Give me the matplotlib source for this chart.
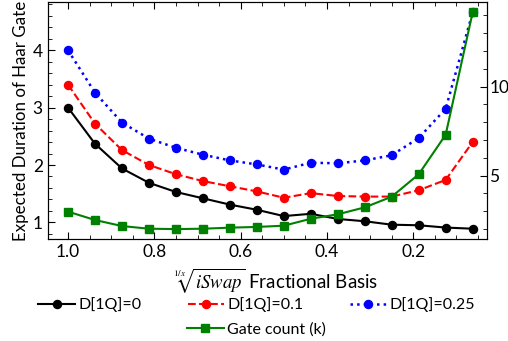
import numpy as np
import matplotlib
matplotlib.use("Agg")
import matplotlib.pyplot as plt
from matplotlib.ticker import MultipleLocator

plt.rcParams["font.family"] = ["Lato", "DejaVu Sans"]
plt.rcParams["mathtext.fontset"] = "stix"

# fractional basis 1/x ... x axis runs 1 -> 1/16 in steps of 1/16
basis = [1 - i / 16 for i in range(16)]

dur_0 = [3.00, 2.37, 1.94, 1.69, 1.53, 1.42, 1.31, 1.22, 1.11, 1.15, 1.06, 1.02, 0.96, 0.95, 0.91, 0.89]
dur_01 = [3.40, 2.72, 2.26, 2.00, 1.84, 1.72, 1.63, 1.54, 1.43, 1.51, 1.46, 1.45, 1.45, 1.56, 1.74, 2.40]
dur_025 = [4.00, 3.26, 2.74, 2.46, 2.30, 2.18, 2.08, 2.01, 1.92, 2.04, 2.03, 2.08, 2.17, 2.47, 2.98, 4.66]
gate_count = [2.97, 2.50, 2.16, 2.01, 1.99, 2.01, 2.07, 2.11, 2.18, 2.57, 2.82, 3.21, 3.81, 5.07, 7.29, 14.17]

TICK_FS = 12.5
LEG_FS = 11.5

fig = plt.figure(figsize=(5.08, 3.41), dpi=100)
ax = fig.add_axes([0.094, 0.299, 0.864, 0.695])
ax2 = ax.twinx()

l0, = ax.plot(basis, dur_0, "-o", color="black", lw=1.5, ms=5.8, label="D[1Q]=0")
l1, = ax.plot(basis, dur_01, "--o", color="red", lw=1.5, ms=5.8, label="D[1Q]=0.1")
l2, = ax.plot(basis, dur_025, ":o", color="blue", lw=1.8, ms=5.8, label="D[1Q]=0.25")
lg, = ax2.plot(basis, gate_count, "-s", color="green", lw=1.5, ms=5.8, label="Gate count (k)")

ax.set_xlim(1.047, 0.03)
ax.set_ylim(0.71, 4.84)
ax2.set_ylim(1.43, 14.75)

ax.xaxis.set_major_locator(MultipleLocator(0.2))
ax.xaxis.set_minor_locator(MultipleLocator(0.05))
ax.yaxis.set_major_locator(MultipleLocator(1))
ax.yaxis.set_minor_locator(MultipleLocator(0.2))
ax2.yaxis.set_major_locator(MultipleLocator(5))
ax2.yaxis.set_minor_locator(MultipleLocator(1))

for a in (ax, ax2):
    a.tick_params(which="both", direction="in", labelsize=TICK_FS)
    a.tick_params(which="major", length=5)
    a.tick_params(which="minor", length=3)
ax.tick_params(which="both", top=True)
ax2.tick_params(which="major", pad=2)

ax.set_ylabel("Expected Duration of Haar Gate", fontsize=12.2, labelpad=3)
ax.set_xlabel(r"$\sqrt[1/x]{iSwap}$ Fractional Basis", fontsize=13.5)
ax.xaxis.set_label_coords(0.52, -0.115)

# two legend rows: the three durations, then gate count under the middle one
leg_kw = dict(frameon=False, fontsize=LEG_FS, handlelength=2.3, handletextpad=0.2)
fig.legend(handles=[l0, l1, l2], ncol=3, loc="upper left",
           bbox_to_anchor=(0.047, 0.170), columnspacing=2.9, **leg_kw)
fig.legend(handles=[lg], loc="upper left", bbox_to_anchor=(0.340, 0.097), **leg_kw)

fig.savefig("out.png", dpi=100)
